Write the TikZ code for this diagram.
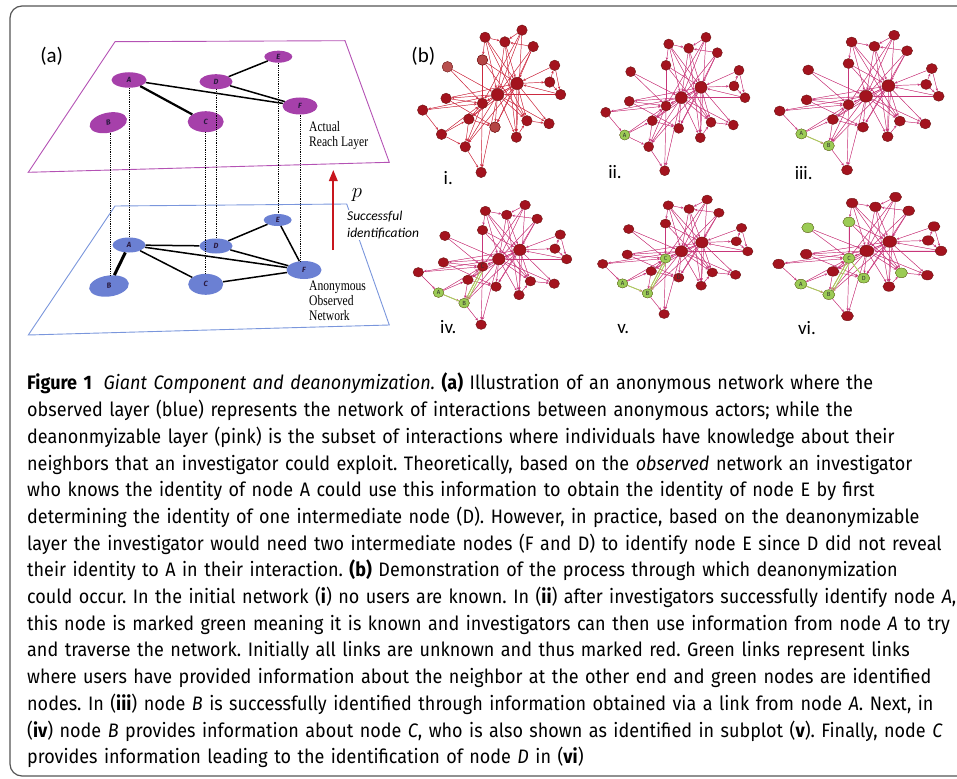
\documentclass[tikz,border=0pt]{standalone}
\usepackage{fontspec}
\setmainfont{Fira Sans}
\newfontfamily\capfont[FakeStretch=0.923]{Fira Sans}
\newfontfamily\lblfont{Carlito}
\newfontfamily\serifn[FakeStretch=0.8]{Liberation Serif}
\usetikzlibrary{shapes.geometric,arrows.meta,calc}
\pgfdeclarelayer{edges}
\pgfsetlayers{edges,main}
\definecolor{frameC}{HTML}{555555}
\definecolor{plum}{HTML}{B452B4}
\definecolor{planeblue}{HTML}{7A96DC}
\definecolor{topnode}{HTML}{A640AA}
\definecolor{botnode}{HTML}{6B80D3}
\definecolor{netred}{HTML}{A3131E}
\definecolor{netredline}{HTML}{6E1515}
\definecolor{netlite}{HTML}{B8504E}
\definecolor{edgepink}{HTML}{C8367A}
\definecolor{edgered}{HTML}{CC2A40}
\definecolor{gfill}{HTML}{9CCB55}
\definecolor{gline}{HTML}{6B9434}
\definecolor{gedgeC}{HTML}{A9D45A}
\definecolor{arrowred}{HTML}{C8161E}
\definecolor{nodetext}{HTML}{2A1A40}
\tikzset{
  netnode/.style={ellipse, fill=netred, draw=netredline, line width=0.4pt, inner sep=0pt},
  netedge/.style={line width=0.45pt, -{Stealth[length=2.8pt,width=2.4pt]}},
  gnode/.style={ellipse, fill=gfill, draw=gline, line width=0.4pt, inner sep=0pt, font=\fontsize{6}{6}\selectfont, text=black!80},
  gedge/.style={gedgeC, line width=0.9pt},
  tnode/.style={ellipse, fill=topnode, inner sep=0pt, font=\fontsize{7.5}{7.5}\selectfont\bfseries\itshape, text=nodetext},
  bnode/.style={ellipse, fill=botnode, inner sep=0pt, font=\fontsize{7.5}{7.5}\selectfont\bfseries\itshape, text=nodetext},
  aedge/.style={black, line width=1.5pt},
  dotline/.style={black, densely dotted, line width=0.8pt},
  panlabel/.style={font=\lblfont\fontsize{19}{19}\selectfont},
}
\def\netnodes{1/63/0,2/100.3/-6.7,3/83/4.3,4/111.6/8.7,5/60.3/21.3,6/25/27.7,7/133.3/26.3,8/95.3/43.3,9/128.3/42,10/139.3/53.7,11/75.6/53.7,12/23.6/57.3,13/60.3/62,14/0/68.3,15/46.6/76.7,16/105.3/78.3,17/127.6/81,18/73/84.3,19/19/91,20/94.6/93.7,21/43/102.7,22/59/126.7}
\def\netedges{1/3,1/5,1/11,1/8,1/16,2/11,2/13,2/20,3/11,3/8,3/20,4/3,4/11,4/18,4/8,5/8,5/13,5/16,6/11,6/13,7/8,9/7,7/10,9/10,8/9,10/8,10/11,8/11,8/13,8/15,8/16,8/17,8/18,8/20,8/21,11/12,11/14,11/15,11/16,11/17,11/18,11/20,11/21,11/22,11/13,12/13,12/18,14/13,14/19,19/15,19/21,19/13,15/21,15/13,15/18,16/17,13/21,13/22,21/22,20/16,2/3,12/8}
% #1 prefix #2 ax #3 ay #4 sx #5 sy #6 w #7 h #8 edge colour
\newcommand\drawnet[8]{%
\begin{scope}[shift={(#2,#3)}]
\foreach \k/\x/\y in \netnodes {
  \pgfmathsetmacro\extra{(\k==8||\k==11)?2:0}
  \node[netnode, minimum width={#6+\extra}, minimum height={#7+\extra}] (#1\k) at ({#4*\x},{#5*\y}) {};
}
\begin{pgfonlayer}{edges}
\foreach \a/\b in \netedges { \draw[netedge, draw=#8, fill=#8] (#1\a) -- (#1\b); }
\end{pgfonlayer}
\end{scope}}
\newcommand\gn[5]{\node[gnode, minimum width=#4, minimum height=#5] (#1g#2) at (#1#2.center) {#3};}
\newcommand\grlink[3]{\begin{pgfonlayer}{edges}\draw[gedge] (#1#2) -- (#1#3);\end{pgfonlayer}}
\begin{document}
\begin{tikzpicture}[x=1pt,y=-1pt]
\useasboundingbox (0,0) rectangle (957,778);
% frame
\draw[frameC, line width=1.2pt, rounded corners=12pt] (10,6) rectangle (980,776);

% ---------- panel (a) ----------
\node[panlabel, font=\lblfont\fontsize{21}{21}\selectfont] (la) at (51.7,56.7) {(a)};
\draw[plum, line width=0.9pt] (115,41.7) -- (345,40.7) -- (389.3,162.3) -- (28.3,172.3) -- cycle;
\draw[planeblue, line width=0.9pt] (115,206) -- (346.7,204) -- (389.3,325) -- (28.3,335) -- cycle;

\node[tnode, minimum width=35, minimum height=15.5] (tA) at (129,80) {A};
\node[tnode, minimum width=33, minimum height=15] (tD) at (216,81.7) {D};
\node[tnode, minimum width=28, minimum height=12] (tE) at (278.3,56.7) {E};
\node[tnode, minimum width=35, minimum height=17] (tF) at (300,106) {F};
\node[tnode, minimum width=38, minimum height=20, rotate=12] (tB) at (108.3,122.7) {B};
\node[tnode, minimum width=36, minimum height=21] (tC) at (205.7,121.7) {C};

\node[bnode, minimum width=28, minimum height=12] (bE) at (277.7,220) {E};
\node[bnode, minimum width=33, minimum height=15] (bA) at (129,245) {A};
\node[bnode, minimum width=33, minimum height=15] (bD) at (216,246) {D};
\node[bnode, minimum width=35, minimum height=18] (bF) at (304,270) {F};
\node[bnode, minimum width=40, minimum height=21, rotate=8] (bB) at (109,286) {B};
\node[bnode, minimum width=35, minimum height=21] (bC) at (205.7,284.3) {C};

\draw[aedge, line width=2.2pt] (tA) -- (tC);
\draw[aedge] (tA) -- (tF);
\draw[aedge] (tD) -- (tF);
\draw[aedge] (tD) -- (tE);

\draw[aedge, line width=3pt] (bA) -- (bB);
\draw[aedge] (bA) -- (bC);
\draw[aedge] (bA) -- (bD);
\draw[aedge] (bA) -- (bF);
\draw[aedge] (bD) -- (bE);
\draw[aedge] (bD) -- (bF);
\draw[aedge] (bE) -- (bF);
\draw[aedge] (bC) -- (bF);

\draw[dotline, xshift=-2.3pt] (tA.south) -- (bA.north -| tA.south);
\draw[dotline, xshift=-1pt] (tB.south) -- (bB.north -| tB.south);
\draw[dotline, xshift=-0.7pt] (tC.south) -- (bC.north -| tC.south);
\draw[dotline, xshift=-1pt] (tD.south) -- (bD.north -| tD.south);
\draw[dotline, xshift=-2pt] (tE.south) -- (bE.north -| tE.south);
\draw[dotline, xshift=-2.3pt] (tF.south) -- (bF.north -| tF.south);

\node[anchor=north west, inner sep=0pt, align=left, font=\serifn\fontsize{14.5}{15}\selectfont] (arl) at (309,121) {Actual\\Reach Layer};
\node[anchor=north west, inner sep=0pt, align=left, font=\serifn\fontsize{14.5}{15}\selectfont] (aon) at (309,281) {Anonymous\\Observed\\Network};

\coordinate (arrS) at (333.3,250);
\coordinate (arrE) at (333.3,170);
\draw[arrowred, line width=1.8pt, -{Triangle[length=11pt,width=8.5pt]}] (arrS) -- (arrE);
\node (plabel) at (357,195) {\fontsize{21}{21}\selectfont$p$};
\node[anchor=north west, fill=white, inner sep=1pt, align=left, font=\lblfont\itshape\fontsize{13.5}{16.5}\selectfont] (succ) at (346,210) {Successful\\identification};

% ---------- panel (b) ----------
\node[panlabel, font=\lblfont\fontsize{21}{21}\selectfont] (lb) at (423.3,56.7) {(b)};

\drawnet{i}{422.7}{37.3}{0.99}{1.066}{10.5}{10.5}{edgered}
\drawnet{ii}{605.7}{44}{1}{1}{10}{10}{edgepink}
\drawnet{iii}{779.7}{42}{1.141}{1.01}{11}{10}{edgepink}
\drawnet{iv}{418.3}{211}{1.065}{0.897}{10.5}{9.5}{edgepink}
\drawnet{v}{602.7}{205.3}{1.041}{0.858}{10.5}{9}{edgepink}
\drawnet{vi}{778.7}{203}{1.165}{0.892}{12}{9.5}{edgepink}

% lighter nodes in i
\node[netnode, fill=netlite, draw=netlite!70!black, minimum width=10.5, minimum height=10.5] (i6l) at (i6.center) {};
\node[netnode, fill=netlite!80!netred, minimum width=10.5, minimum height=10.5] (i5l) at (i5.center) {};
\node[netnode, fill=netlite!80!netred, minimum width=10.5, minimum height=10.5] (i18l) at (i18.center) {};

% ii
\gn{ii}{19}{A}{10}{10}
% iii
\grlink{iii}{19}{21}
\gn{iii}{19}{A}{11}{10}
\gn{iii}{21}{B}{11}{10}
% iv
\grlink{iv}{19}{21}
\grlink{iv}{21}{13}
\begin{pgfonlayer}{edges}\draw[gedge] (iv21.north east) -- (iv13.south);\end{pgfonlayer}
\gn{iv}{19}{A}{10.5}{9.5}
\gn{iv}{21}{B}{10.5}{9.5}
\node[font=\fontsize{6.5}{6.5}\selectfont, text=black!80, inner sep=0pt] (ivC) at (iv13.center) {C};
% v
\grlink{v}{19}{21}
\grlink{v}{21}{13}
\begin{pgfonlayer}{edges}\draw[gedge] (v21.north east) -- (v13.south);\end{pgfonlayer}
\gn{v}{19}{A}{10.5}{9}
\gn{v}{21}{B}{10.5}{9}
\gn{v}{13}{C}{10.5}{9}
\node[font=\fontsize{6.5}{6.5}\selectfont, text=black!80, inner sep=0pt] (vD) at (v18.center) {D};
% vi
\grlink{vi}{19}{21}
\grlink{vi}{21}{13}
\grlink{vi}{13}{18}
\begin{pgfonlayer}{edges}\draw[gedge] (vi21.north east) -- (vi13.south);\end{pgfonlayer}
\gn{vi}{19}{A}{12}{9.5}
\gn{vi}{21}{B}{12}{9.5}
\gn{vi}{13}{C}{12}{9.5}
\gn{vi}{18}{D}{12}{9.5}
\gn{vi}{5}{}{12}{9.5}
\gn{vi}{6}{}{12}{9.5}
\gn{vi}{16}{}{12}{9.5}

\node[panlabel] (li) at (448.3,177.7) {i.};
\node[panlabel] (lii) at (615,171.7) {ii.};
\node[panlabel] (liii) at (803.7,173.3) {iii.};
\node[panlabel] (liv) at (448.3,326.7) {iv.};
\node[panlabel] (lv) at (623.3,329.3) {v.};
\node[panlabel] (lvi) at (807,328) {vi.};

% ---------- caption ----------
\node[anchor=north west, inner sep=0pt, text width=1000pt, align=left, font=\capfont\fontsize{19.5}{26.7}\selectfont\frenchspacing] (cap) at (27,373) {%
{\bfseries Figure 1}\hspace{0.6em}{\itshape Giant Component and deanonymization.} {\bfseries (a)} Illustration of an anonymous network where the\\
observed layer (blue) represents the network of interactions between anonymous actors; while the\\
deanonmyizable layer (pink) is the subset of interactions where individuals have knowledge about their\\
neighbors that an investigator could exploit. Theoretically, based on the {\itshape observed} network an investigator\\
who knows the identity of node A could use this information to obtain the identity of node E by first\\
determining the identity of one intermediate node (D). However, in practice, based on the deanonymizable\\
layer the investigator would need two intermediate nodes (F and D) to identify node E since D did not reveal\\
their identity to A in their interaction. {\bfseries (b)} Demonstration of the process through which deanonymization\\
could occur. In the initial network ({\bfseries i}) no users are known. In ({\bfseries ii}) after investigators successfully identify node {\itshape A},\\
this node is marked green meaning it is known and investigators can then use information from node {\itshape A} to try\\
and traverse the network. Initially all links are unknown and thus marked red. Green links represent links\\
where users have provided information about the neighbor at the other end and green nodes are identified\\
nodes. In ({\bfseries iii}) node {\itshape B} is successfully identified through information obtained via a link from node {\itshape A}. Next, in\\
({\bfseries iv}) node {\itshape B} provides information about node {\itshape C}, who is also shown as identified in subplot ({\bfseries v}). Finally, node {\itshape C}\\
provides information leading to the identification of node {\itshape D} in ({\bfseries vi})};
\end{tikzpicture}
\end{document}
